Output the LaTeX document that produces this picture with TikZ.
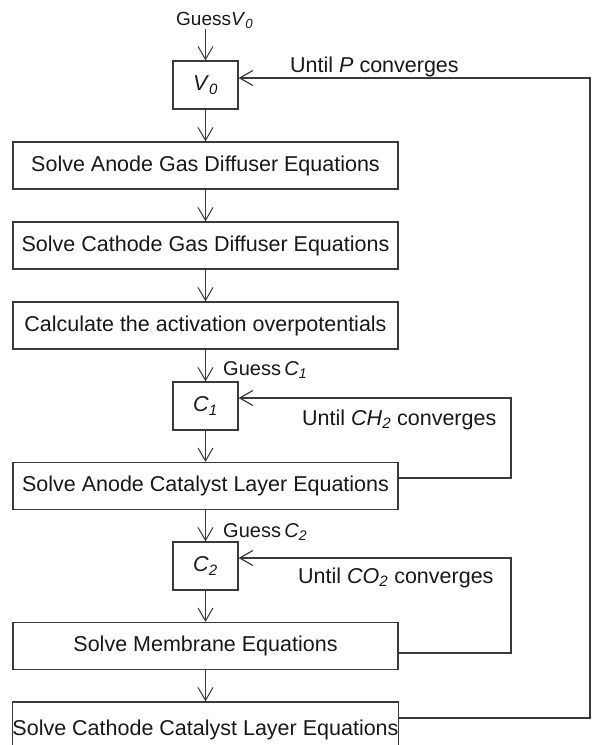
\documentclass[tikz,border=0pt]{standalone}
\usepackage{fontspec}
\setmainfont{Liberation Sans}
\usetikzlibrary{arrows.meta}
\newcommand{\vsub}[2]{\textit{#1}\textsubscript{\textit{#2}}}
\definecolor{ln}{HTML}{3A3A3A}
\definecolor{tx}{HTML}{181818}
\begin{document}
\begin{tikzpicture}[x=1pt,y=-1pt,
 box/.style={draw=ln, line width=1.2pt, minimum width=385pt, minimum height=47pt, inner sep=0pt, text=tx, font=\fontsize{21.5}{26}\selectfont},
 vbox/.style={box, minimum width=65pt, minimum height=48pt},
 lbl/.style={inner sep=0pt, anchor=base west, text=tx, font=\fontsize{21.5}{26}\selectfont},
 glbl/.style={lbl, font=\fontsize{20}{24}\selectfont},
 arr/.style={draw=ln, line width=1pt, -{Straight Barb[length=13pt,width=15pt]}},
 lp/.style={draw=ln, line width=1.2pt, -{Straight Barb[length=13pt,width=15pt]}}]
\useasboundingbox (0,0) rectangle (592,745);
\node[vbox] (V0) at (205.5,85) {\vsub{V}{0}};
\node[box] (AGD) at (205.5,165.5) {Solve Anode Gas Diffuser Equations};
\node[box] (CGD) at (205.5,245.5) {Solve Cathode Gas Diffuser Equations};
\node[box] (CAL) at (205.5,325.5) {Calculate the activation overpotentials};
\node[vbox] (C1) at (205.5,406) {\vsub{C}{1}};
\node[box] (ACL) at (205.5,486) {Solve Anode Catalyst Layer Equations};
\node[vbox] (C2) at (205.5,566) {\vsub{C}{2}};
\node[box] (MEM) at (205.5,646) {Solve Membrane Equations};
\node[box, minimum height=55pt] (CCL) at (205.5,729.5) {Solve Cathode Catalyst Layer Equations};
\node[glbl, font=\fontsize{19}{23}\selectfont] (gV) at (176,25) {Guess\vsub{V}{0}};
\node[glbl] (gC1) at (223,375) {Guess\,\vsub{C}{1}};
\node[glbl] (gC2) at (223,537) {Guess\,\vsub{C}{2}};
\node[lbl] (uP) at (290,72) {Until \textit{P} converges};
\node[lbl] (uH) at (302,425) {Until \vsub{CH}{2} converges};
\node[lbl] (uO) at (298,583) {Until \vsub{CO}{2} converges};
\coordinate (gs) at (205.5,29);
\coordinate (kP) at (590,78);
\coordinate (k1) at (511,398);
\coordinate (k2) at (511,558);
\draw[arr] (gs) -- (V0.north);
\draw[arr] (V0.south) -- (AGD.north);
\draw[arr] (AGD.south) -- (CGD.north);
\draw[arr] (CGD.south) -- (CAL.north);
\draw[arr] (CAL.south) -- (C1.north);
\draw[arr] (C1.south) -- (ACL.north);
\draw[arr] (ACL.south) -- (C2.north);
\draw[arr] (C2.south) -- (MEM.north);
\draw[arr] (MEM.south) -- (CCL.north);
\draw[lp] ([yshift=11.5pt]CCL.east) -| (kP) -- ([yshift=7pt]V0.east);
\draw[lp] ([yshift=8pt]ACL.east) -| (k1) -- ([yshift=8pt]C1.east);
\draw[lp] ([yshift=-7pt]MEM.east) -| (k2) -- ([yshift=8pt]C2.east);
\end{tikzpicture}
\end{document}
